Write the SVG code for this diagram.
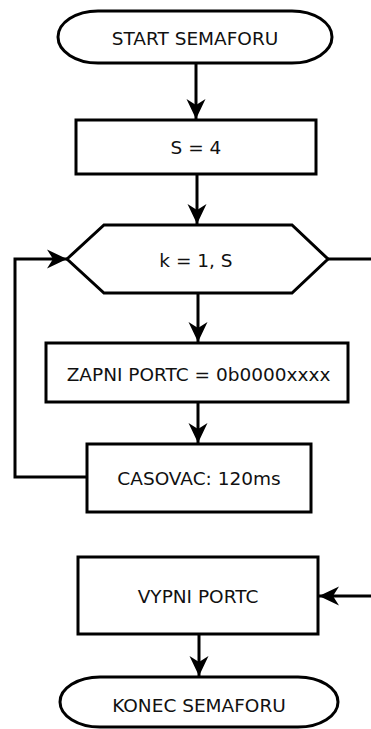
<svg xmlns="http://www.w3.org/2000/svg" width="371" height="729" viewBox="0 0 371 729">
<defs>
<style>
.n{fill:#fff;stroke:#000;stroke-width:3}
.t{font-family:"DejaVu Sans",Verdana,sans-serif;font-size:18.5px;fill:#111;text-anchor:middle;dominant-baseline:central}
.c{fill:none;stroke:#000;stroke-width:3}
</style>
<marker id="ah" viewBox="0 0 21 20" refX="20" refY="10" markerWidth="21" markerHeight="20" markerUnits="userSpaceOnUse" orient="auto">
<path d="M0,0.5 L20,10 L0,19.5 L6,10 Z" fill="#000"/>
</marker>
</defs>
<rect width="371" height="729" fill="#fff"/>
<g id="connectors">
<path class="c" d="M196,63 V119" marker-end="url(#ah)"/>
<path class="c" d="M197,174 V224" marker-end="url(#ah)"/>
<path class="c" d="M198,293 V342" marker-end="url(#ah)"/>
<path class="c" d="M198,402 V443" marker-end="url(#ah)"/>
<path class="c" d="M87,477 H15 V259 H67" marker-end="url(#ah)"/>
<path class="c" d="M328,259 H371"/>
<path class="c" d="M371,596 H319" marker-end="url(#ah)"/>
<path class="c" d="M199,634 V676" marker-end="url(#ah)"/>
</g>
<g id="start">
<rect class="n" x="58" y="11" width="274" height="52" rx="40" ry="26"/>
<text class="t" x="195" y="38">START SEMAFORU</text>
</g>
<g id="s4">
<rect class="n" x="76" y="120" width="240" height="54"/>
<text class="t" x="196" y="147">S = 4</text>
</g>
<g id="loop">
<polygon class="n" points="67,259 104,225 292,225 328,259 292,293 104,293"/>
<text class="t" x="196" y="260">k = 1, S</text>
</g>
<g id="zapni">
<rect class="n" x="46" y="343" width="302" height="59"/>
<text class="t" x="198.5" y="374">ZAPNI PORTC = 0b0000xxxx</text>
</g>
<g id="casovac">
<rect class="n" x="87" y="444" width="224" height="68"/>
<text class="t" x="199" y="478">CASOVAC: 120ms</text>
</g>
<g id="vypni">
<rect class="n" x="78" y="557" width="240" height="77"/>
<text class="t" x="198" y="596">VYPNI PORTC</text>
</g>
<g id="konec">
<rect class="n" x="60" y="677" width="278" height="50" rx="40" ry="25"/>
<text class="t" x="199" y="705">KONEC SEMAFORU</text>
</g>
</svg>
